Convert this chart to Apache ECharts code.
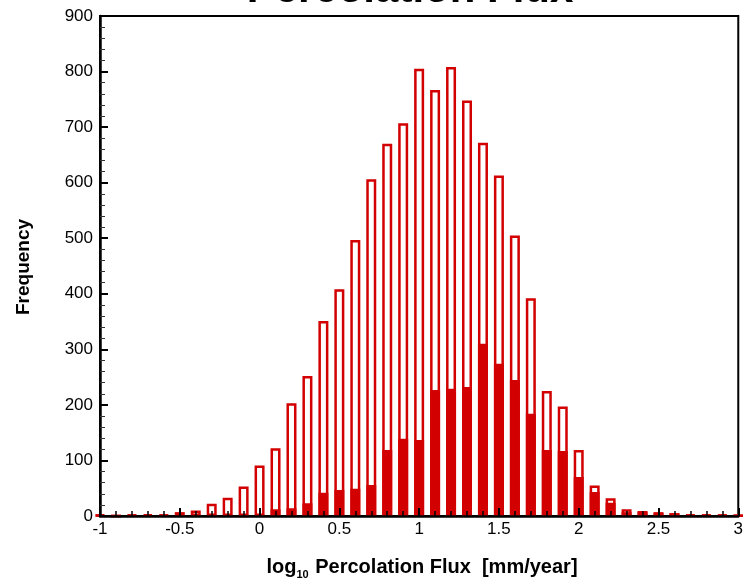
<!DOCTYPE html>
<html>
<head>
<meta charset="utf-8">
<title>Percolation Flux</title>
<script src="https://cdn.jsdelivr.net/npm/echarts@6/dist/echarts.min.js"></script>
<style>
  html, body { margin: 0; padding: 0; background: #fff; }
  #chart { width: 746px; height: 578px; }
</style>
</head>
<body>
<div id="chart"></div>
<script>
// Bin centres of the log10 percolation flux histogram
const binCenters = [
  -1.0, -0.9, -0.8, -0.7, -0.6, -0.5, -0.4, -0.3, -0.2, -0.1,
   0.0,  0.1,  0.2,  0.3,  0.4,  0.5,  0.6,  0.7,  0.8,  0.9,
   1.0,  1.1,  1.2,  1.3,  1.4,  1.5,  1.6,  1.7,  1.8,  1.9,
   2.0,  2.1,  2.2,  2.3,  2.4,  2.5,  2.6,  2.7,  2.8,  2.9, 3.0
];
// All realizations (outlined bars)
const totalCounts = [
    2,   0,   2,   3,   2,   7,  10,  22,  33,  53,
   91, 122, 203, 252, 351, 408, 497, 606, 670, 707,
  805, 767, 808, 748, 672, 613, 505, 392, 225, 197,
  119,  55,  32,  12,   9,   7,   5,   2,   2,   2, 1
];
// Subset (solid bars)
const subsetCounts = [
    2,   0,   2,   3,   2,   3,   3,   1,   1,   0,
    1,  12,  14,  23,  42,  47,  49,  56, 119, 139,
  137, 227, 229, 232, 310, 274, 245, 184, 119, 117,
   70,  43,  24,   7,   7,   5,   5,   2,   2,   2, 1
];

const RED = '#d20000';
const FONT = '"Liberation Sans", Arial, Helvetica, sans-serif';

const chart = echarts.init(document.getElementById('chart'), null, { renderer: 'canvas' });

const pairs = (ys) => binCenters.map((x, i) => [x, ys[i]]);

chart.setOption({
  animation: false,
  backgroundColor: '#fff',
  grid: {
    left: 100, right: 5, top: 16, bottom: 62,
    show: true, borderColor: '#000', borderWidth: 2,
    backgroundColor: 'transparent'
  },
  xAxis: {
    type: 'value',
    min: -1, max: 3, interval: 0.5,
    z: 5,
    axisLine: { show: true, onZero: false, lineStyle: { color: '#000', width: 2.5 } },
    axisTick: { show: true, inside: true, length: 8, lineStyle: { color: '#000', width: 2 } },
    minorTick: { show: true, splitNumber: 5, length: 5, lineStyle: { color: '#000', width: 1.5 } },
    splitLine: { show: false },
    axisLabel: { color: '#000', fontFamily: FONT, fontSize: 17, margin: 5 }
  },
  yAxis: {
    type: 'value',
    min: 0, max: 900, interval: 100,
    z: 5,
    axisLine: { show: true, onZero: false, lineStyle: { color: '#000', width: 2.5 } },
    axisTick: { show: true, inside: true, length: 8, lineStyle: { color: '#000', width: 2 } },
    minorTick: { show: true, splitNumber: 5, length: 5, lineStyle: { color: '#333', width: 1 } },
    splitLine: { show: false },
    axisLabel: { color: '#000', fontFamily: FONT, fontSize: 17, margin: 7 }
  },
  series: [
    {
      name: 'All',
      type: 'bar',
      data: pairs(totalCounts),
      barWidth: 10,
      barMaxWidth: 12,
      barGap: '-100%',
      itemStyle: { color: '#fff', borderColor: RED, borderWidth: 2.5 },
      z: 2
    },
    {
      name: 'Subset',
      type: 'bar',
      data: pairs(subsetCounts),
      barWidth: 10,
      barMaxWidth: 12,
      barGap: '-100%',
      itemStyle: { color: RED, borderColor: RED, borderWidth: 2.5 },
      z: 3
    }
  ],
  graphic: [
    {
      type: 'text', x: 410, y: -9.5, z: 10,
      style: {
        text: 'Percolation Flux', fill: '#000',
        font: 'bold 42px ' + FONT,
        align: 'center', verticalAlign: 'middle'
      }
    },
    {
      type: 'text', x: 24, y: 267, rotation: Math.PI / 2, z: 10,
      style: {
        text: 'Frequency', fill: '#000',
        font: 'bold 19px ' + FONT,
        align: 'center', verticalAlign: 'middle'
      }
    },
    {
      type: 'text', x: 422, y: 566, z: 10,
      style: {
        text: '{a|log}{s|10}{a| Percolation Flux  [mm/year]}',
        align: 'center', verticalAlign: 'middle',
        rich: {
          a: { fontFamily: FONT, fontWeight: 'bold', fontSize: 20, fill: '#000', verticalAlign: 'bottom', lineHeight: 22 },
          s: { fontFamily: FONT, fontWeight: 'bold', fontSize: 11, fill: '#000', verticalAlign: 'bottom', lineHeight: 14, padding: [0, 1, -3, 0] }
        }
      }
    }
  ]
});
</script>
</body>
</html>
